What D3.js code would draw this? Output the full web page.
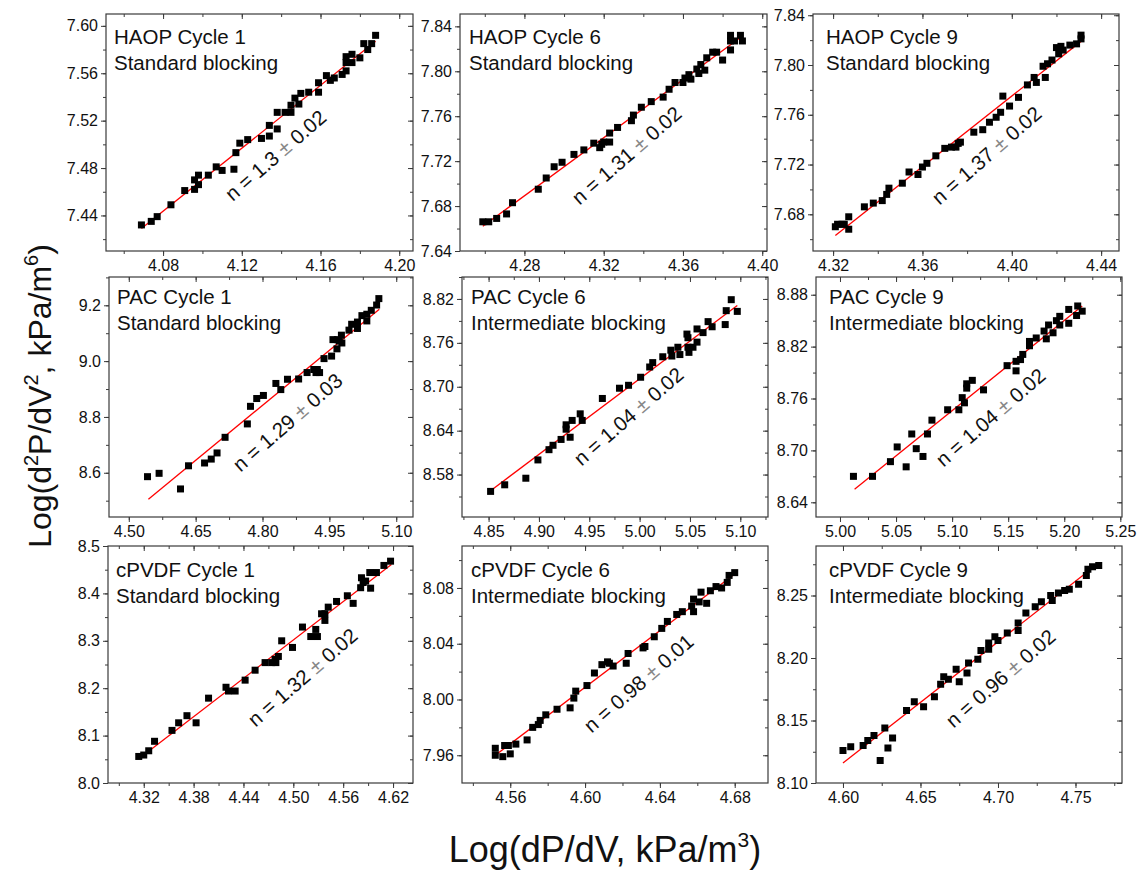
<!DOCTYPE html>
<html><head><meta charset="utf-8">
<script src="https://cdn.jsdelivr.net/npm/d3@7/dist/d3.min.js"></script>
<style>
body{margin:0;background:#fff;}
svg{display:block;font-family:"Liberation Sans",Arial,Helvetica,sans-serif;}
</style></head><body>
<svg id="chart" width="1143" height="871"></svg>
<script>
// ---------- DATA ----------
const titles = ["HAOP Cycle 1","HAOP Cycle 6","HAOP Cycle 9","PAC Cycle 1","PAC Cycle 6","PAC Cycle 9","cPVDF Cycle 1","cPVDF Cycle 6","cPVDF Cycle 9"];
const regimes = ["Standard blocking","Standard blocking","Standard blocking","Standard blocking","Intermediate blocking","Intermediate blocking","Standard blocking","Intermediate blocking","Intermediate blocking"];
const nValues = ["1.3","1.31","1.37","1.29","1.04","1.04","1.32","0.98","0.96"];
const nErrors = ["0.02","0.02","0.02","0.03","0.02","0.02","0.02","0.01","0.02"];

const p1x = [4.069,4.074,4.077,4.084,4.091,4.096,4.096,4.098,4.098,4.103,4.107,4.110,4.116,4.117,4.119,4.123,4.130,4.134,4.134,4.138,4.138,4.142,4.145,4.145,4.147,4.149,4.150,4.154,4.159,4.159,4.163,4.165,4.167,4.171,4.173,4.173,4.173,4.176,4.176,4.180,4.182,4.184,4.186,4.188];
const p1y = [7.432,7.435,7.439,7.449,7.461,7.470,7.462,7.474,7.466,7.474,7.481,7.478,7.479,7.493,7.501,7.504,7.505,7.507,7.516,7.513,7.527,7.527,7.533,7.527,7.539,7.534,7.543,7.544,7.552,7.544,7.558,7.554,7.556,7.559,7.562,7.574,7.569,7.576,7.569,7.573,7.585,7.580,7.585,7.592];
const fit1x = [4.069,4.188], fit1y = [7.429,7.587];

const p2x = [4.259,4.262,4.266,4.271,4.274,4.287,4.291,4.295,4.299,4.305,4.310,4.315,4.318,4.319,4.320,4.323,4.323,4.327,4.334,4.335,4.339,4.344,4.350,4.353,4.356,4.360,4.361,4.363,4.364,4.367,4.368,4.369,4.371,4.372,4.375,4.377,4.380,4.384,4.384,4.384,4.386,4.389,4.390];
const p2y = [7.666,7.666,7.669,7.673,7.683,7.695,7.705,7.715,7.719,7.726,7.730,7.736,7.732,7.735,7.737,7.737,7.745,7.750,7.756,7.761,7.768,7.773,7.777,7.784,7.790,7.790,7.794,7.797,7.793,7.802,7.798,7.806,7.801,7.812,7.817,7.817,7.810,7.832,7.819,7.827,7.827,7.832,7.827];
const fit2x = [4.259,4.389], fit2y = [7.662,7.830];

const p3x = [4.321,4.322,4.324,4.325,4.327,4.327,4.334,4.338,4.342,4.344,4.345,4.351,4.354,4.358,4.360,4.362,4.366,4.370,4.373,4.375,4.376,4.377,4.383,4.387,4.390,4.393,4.395,4.396,4.399,4.403,4.407,4.410,4.411,4.415,4.414,4.416,4.418,4.420,4.421,4.422,4.423,4.426,4.429,4.431,4.431];
const p3y = [7.670,7.672,7.672,7.672,7.668,7.678,7.686,7.689,7.691,7.696,7.701,7.705,7.714,7.712,7.718,7.721,7.727,7.733,7.734,7.734,7.737,7.738,7.746,7.748,7.754,7.758,7.762,7.775,7.767,7.774,7.784,7.790,7.786,7.790,7.799,7.801,7.804,7.814,7.809,7.815,7.812,7.816,7.817,7.824,7.821];
const fit3x = [4.321,4.431], fit3y = [7.663,7.819];

const p4x = [4.542,4.568,4.616,4.634,4.670,4.685,4.698,4.716,4.766,4.773,4.787,4.802,4.830,4.841,4.856,4.881,4.900,4.915,4.920,4.923,4.928,4.938,4.955,4.958,4.967,4.968,4.972,4.977,4.978,4.994,5.000,5.013,5.013,5.023,5.034,5.034,5.044,5.056,5.061];
const p4y = [8.586,8.598,8.542,8.625,8.635,8.649,8.671,8.727,8.775,8.838,8.866,8.877,8.920,8.898,8.935,8.936,8.959,8.970,8.959,8.970,8.959,9.009,9.018,9.077,9.044,9.077,9.072,9.093,9.065,9.111,9.132,9.117,9.140,9.163,9.144,9.168,9.182,9.201,9.224];
const fit4x = [4.544,5.062], fit4y = [8.505,9.186];

const p5x = [4.852,4.866,4.887,4.899,4.910,4.914,4.922,4.927,4.927,4.931,4.933,4.941,4.943,4.963,4.980,4.989,5.001,5.010,5.013,5.023,5.031,5.032,5.038,5.040,5.047,5.048,5.048,5.049,5.053,5.057,5.057,5.063,5.068,5.072,5.085,5.086,5.091,5.097];
const p5y = [8.557,8.566,8.575,8.600,8.614,8.620,8.628,8.648,8.642,8.631,8.654,8.663,8.654,8.684,8.698,8.702,8.713,8.727,8.733,8.741,8.750,8.742,8.754,8.744,8.772,8.767,8.754,8.747,8.754,8.761,8.779,8.774,8.789,8.782,8.785,8.804,8.819,8.803];
const fit5x = [4.852,5.097], fit5y = [8.558,8.811];

const p6x = [5.012,5.029,5.045,5.051,5.059,5.064,5.068,5.074,5.078,5.082,5.096,5.106,5.109,5.111,5.113,5.113,5.118,5.128,5.149,5.157,5.157,5.161,5.163,5.169,5.169,5.175,5.182,5.184,5.186,5.190,5.193,5.196,5.196,5.204,5.204,5.211,5.212,5.216];
const p6y = [8.670,8.670,8.687,8.704,8.681,8.719,8.702,8.693,8.719,8.735,8.747,8.747,8.761,8.755,8.772,8.777,8.781,8.770,8.798,8.803,8.792,8.805,8.811,8.821,8.826,8.830,8.838,8.829,8.845,8.836,8.850,8.855,8.845,8.847,8.863,8.856,8.867,8.861];
const fit6x = [5.013,5.216], fit6y = [8.655,8.867];

const p7x = [4.314,4.320,4.326,4.333,4.354,4.362,4.372,4.383,4.398,4.419,4.422,4.430,4.442,4.454,4.466,4.474,4.478,4.479,4.482,4.486,4.499,4.511,4.521,4.527,4.529,4.534,4.538,4.538,4.542,4.552,4.565,4.572,4.581,4.582,4.584,4.587,4.592,4.593,4.600,4.609,4.617];
const p7y = [8.056,8.059,8.068,8.088,8.111,8.127,8.142,8.127,8.179,8.202,8.194,8.194,8.217,8.238,8.254,8.254,8.261,8.254,8.267,8.300,8.286,8.329,8.309,8.324,8.309,8.357,8.357,8.343,8.371,8.383,8.395,8.379,8.412,8.433,8.423,8.426,8.444,8.411,8.444,8.459,8.468];
const fit7x = [4.315,4.618], fit7y = [8.052,8.461];

const p8x = [4.552,4.552,4.556,4.557,4.559,4.560,4.563,4.569,4.572,4.575,4.576,4.579,4.585,4.592,4.594,4.595,4.601,4.605,4.609,4.612,4.613,4.615,4.622,4.623,4.631,4.632,4.637,4.641,4.644,4.649,4.652,4.657,4.658,4.658,4.661,4.662,4.665,4.667,4.670,4.673,4.676,4.677,4.680];
const p8y = [7.965,7.960,7.959,7.967,7.967,7.961,7.968,7.971,7.980,7.982,7.985,7.989,7.993,7.994,8.001,8.006,8.010,8.019,8.025,8.027,8.026,8.024,8.026,8.033,8.037,8.038,8.045,8.051,8.056,8.061,8.063,8.067,8.072,8.063,8.070,8.077,8.069,8.078,8.081,8.080,8.084,8.089,8.091];
const fit8x = [4.552,4.680], fit8y = [7.960,8.090];

const p9x = [4.600,4.605,4.613,4.616,4.620,4.624,4.627,4.629,4.632,4.641,4.646,4.652,4.659,4.663,4.665,4.668,4.673,4.675,4.680,4.681,4.687,4.689,4.694,4.694,4.698,4.700,4.706,4.713,4.713,4.718,4.724,4.728,4.734,4.735,4.739,4.743,4.746,4.752,4.757,4.758,4.761,4.765];
const p9y = [8.126,8.129,8.130,8.134,8.138,8.118,8.144,8.128,8.136,8.158,8.165,8.161,8.169,8.179,8.185,8.183,8.191,8.181,8.188,8.196,8.199,8.206,8.207,8.212,8.217,8.214,8.220,8.222,8.228,8.236,8.241,8.245,8.250,8.246,8.252,8.254,8.255,8.259,8.266,8.271,8.273,8.274];
const fit9x = [4.600,4.765], fit9y = [8.116,8.276];

// axis ranges
const xDomains = [[4.051,4.207],[4.2475,4.4024],[4.311,4.448],[4.4556,5.1376],[4.8236,5.1275],[4.9786,5.2515],[4.277,4.644],[4.5342,4.6978],[4.5826,4.780]];
const yDomains = [[7.410,7.610],[7.640,7.851],[7.6505,7.841],[8.4415,9.3014],[8.522,8.850],[8.623,8.9005],[8.0,8.5],[7.9401,8.1101],[8.10,8.2896]];

// tick labels
const xTicks1 = [4.08,4.12,4.16,4.20], yTicks1 = [7.44,7.48,7.52,7.56,7.60];
const xTicks2 = [4.28,4.32,4.36,4.40], yTicks2 = [7.64,7.68,7.72,7.76,7.80,7.84];
const xTicks3 = [4.32,4.36,4.40,4.44], yTicks3 = [7.68,7.72,7.76,7.80,7.84];
const xTicks4 = [4.50,4.65,4.80,4.95,5.10], yTicks4 = [8.6,8.8,9.0,9.2];
const xTicks5 = [4.85,4.90,4.95,5.00,5.05,5.10], yTicks5 = [8.58,8.64,8.70,8.76,8.82];
const xTicks6 = [5.00,5.05,5.10,5.15,5.20,5.25], yTicks6 = [8.64,8.70,8.76,8.82,8.88];
const xTicks7 = [4.32,4.38,4.44,4.50,4.56,4.62], yTicks7 = [8.0,8.1,8.2,8.3,8.4,8.5];
const xTicks8 = [4.56,4.60,4.64,4.68], yTicks8 = [7.96,8.00,8.04,8.08];
const xTicks9 = [4.60,4.65,4.70,4.75], yTicks9 = [8.10,8.15,8.20,8.25];
const yDecimals = [2,2,2,1,2,2,1,2,2];

// ---------- BUILD TABLE ----------
const px = [p1x,p2x,p3x,p4x,p5x,p6x,p7x,p8x,p9x];
const py = [p1y,p2y,p3y,p4y,p5y,p6y,p7y,p8y,p9y];
const fx = [fit1x,fit2x,fit3x,fit4x,fit5x,fit6x,fit7x,fit8x,fit9x];
const fy = [fit1y,fit2y,fit3y,fit4y,fit5y,fit6y,fit7y,fit8y,fit9y];
const xT = [xTicks1,xTicks2,xTicks3,xTicks4,xTicks5,xTicks6,xTicks7,xTicks8,xTicks9];
const yT = [yTicks1,yTicks2,yTicks3,yTicks4,yTicks5,yTicks6,yTicks7,yTicks8,yTicks9];

// ---------- LAYOUT ----------
const frames = [
  {l:106,r:413,t:14,b:251},{l:460,r:767,t:14,b:251},{l:813,r:1119,t:14,b:251},
  {l:109,r:413,t:277,b:517},{l:462,r:768,t:277,b:517},{l:816,r:1122,t:277,b:517},
  {l:108,r:413,t:546,b:783},{l:462,r:768,t:546,b:783},{l:816,r:1122,t:546,b:783}
];
const labelDx = [8,9,13];
const labelDy = [[30,56],[27,53],[31,57]];
const annotPos = [[171,143],[168,143],[175,143],[180,147],[168,141],[176,142],[196,133],[178,139],[186,134]];

const svg = d3.select('#chart');
svg.append('rect').attr('width',1143).attr('height',871).attr('fill','#fff');
const axisColor = '#3a3a3a';

function minorTicks(ticks, dom){
  const step = (ticks[1]-ticks[0])/2;
  let v = ticks[0];
  while (v - step >= dom[0]-1e-9) v -= step;
  const out = [];
  for (; v <= dom[1]+1e-9; v += step) out.push(+v.toFixed(6));
  return out;
}
function styleAxis(g){
  g.select('.domain').remove();
  g.selectAll('.tick line').attr('stroke',axisColor).attr('stroke-width',1);
  g.selectAll('.tick text').attr('fill','#111').attr('font-size',16)
   .attr('font-family','"Liberation Sans",Arial,sans-serif');
}

for (let i=0;i<9;i++){
  const f = frames[i];
  const x = d3.scaleLinear().domain(xDomains[i]).range([f.l,f.r]);
  const y = d3.scaleLinear().domain(yDomains[i]).range([f.b,f.t]);
  const g = svg.append('g');
  const xMin = minorTicks(xT[i], xDomains[i]);
  const yMin = minorTicks(yT[i], yDomains[i]);

  // minor ticks (outer: bottom/left; inner: top/right)
  g.append('g').attr('transform',`translate(0,${f.b})`)
    .call(d3.axisBottom(x).tickValues(xMin).tickSize(3).tickFormat('')).call(styleAxis);
  g.append('g').attr('transform',`translate(${f.l},0)`)
    .call(d3.axisLeft(y).tickValues(yMin).tickSize(3).tickFormat('')).call(styleAxis);
  g.append('g').attr('transform',`translate(0,${f.t})`)
    .call(d3.axisBottom(x).tickValues(xMin).tickSize(3).tickFormat('')).call(styleAxis);
  g.append('g').attr('transform',`translate(${f.r},0)`)
    .call(d3.axisLeft(y).tickValues(yMin).tickSize(3).tickFormat('')).call(styleAxis);
  // major ticks
  g.append('g').attr('transform',`translate(0,${f.b})`)
    .call(d3.axisBottom(x).tickValues(xT[i]).tickSize(5).tickPadding(4).tickFormat(d3.format('.2f'))).call(styleAxis);
  g.append('g').attr('transform',`translate(${f.l},0)`)
    .call(d3.axisLeft(y).tickValues(yT[i]).tickSize(5).tickPadding(3).tickFormat(d3.format('.'+yDecimals[i]+'f'))).call(styleAxis);
  g.append('g').attr('transform',`translate(0,${f.t})`)
    .call(d3.axisBottom(x).tickValues(xT[i]).tickSize(5).tickFormat('')).call(styleAxis);
  g.append('g').attr('transform',`translate(${f.r},0)`)
    .call(d3.axisLeft(y).tickValues(yT[i]).tickSize(5).tickFormat('')).call(styleAxis);

  // frame
  g.append('rect').attr('x',f.l).attr('y',f.t).attr('width',f.r-f.l).attr('height',f.b-f.t)
    .attr('fill','none').attr('stroke',axisColor).attr('stroke-width',1.2);

  // fit line
  const fitData = fx[i].map((v,k)=>[v,fy[i][k]]);
  g.append('path').datum(fitData)
    .attr('d',d3.line().x(d=>x(d[0])).y(d=>y(d[1])))
    .attr('stroke','#ff0000').attr('stroke-width',1.3).attr('fill','none');

  // points
  const pts = px[i].map((v,k)=>[v,py[i][k]]);
  const s = 7;
  g.selectAll('rect.pt').data(pts).enter().append('rect').attr('class','pt')
    .attr('x',d=>x(d[0])-s/2).attr('y',d=>y(d[1])-s/2).attr('width',s).attr('height',s)
    .attr('fill','#000');

  // labels
  const col = i%3, row = Math.floor(i/3);
  g.append('text').attr('x',f.l+labelDx[col]).attr('y',f.t+labelDy[row][0])
    .attr('font-size',20.5).attr('fill','#111').text(titles[i]);
  g.append('text').attr('x',f.l+labelDx[col]).attr('y',f.t+labelDy[row][1])
    .attr('font-size',20.5).attr('fill','#111').text(regimes[i]);

  // annotation
  const a = annotPos[i];
  const t = g.append('text')
    .attr('transform',`translate(${f.l+a[0]},${f.t+a[1]}) rotate(-41)`)
    .attr('text-anchor','middle').attr('dominant-baseline','middle')
    .attr('font-size',20.5).attr('fill','#111');
  t.append('tspan').text('n = '+nValues[i]+' ');
  t.append('tspan').attr('fill','#888').text('±');
  t.append('tspan').text(' '+nErrors[i]);
}

// axis titles
const yt = svg.append('text').attr('transform','translate(51,396) rotate(-90)')
  .attr('text-anchor','middle').attr('font-size',32).attr('fill','#111');
yt.append('tspan').text('Log(d');
yt.append('tspan').attr('font-size',20).attr('dy',-13).text('2');
yt.append('tspan').attr('dy',13).text('P/dV');
yt.append('tspan').attr('font-size',20).attr('dy',-13).text('2');
yt.append('tspan').attr('dy',13).text(', kPa/m');
yt.append('tspan').attr('font-size',20).attr('dy',-13).text('6');
yt.append('tspan').attr('dy',13).text(')');

const xt = svg.append('text').attr('transform','translate(605,862)')
  .attr('text-anchor','middle').attr('font-size',36).attr('fill','#111');
xt.append('tspan').text('Log(dP/dV, kPa/m');
xt.append('tspan').attr('font-size',21).attr('dy',-15).text('3');
xt.append('tspan').attr('dy',15).text(')');
</script>
</body></html>
